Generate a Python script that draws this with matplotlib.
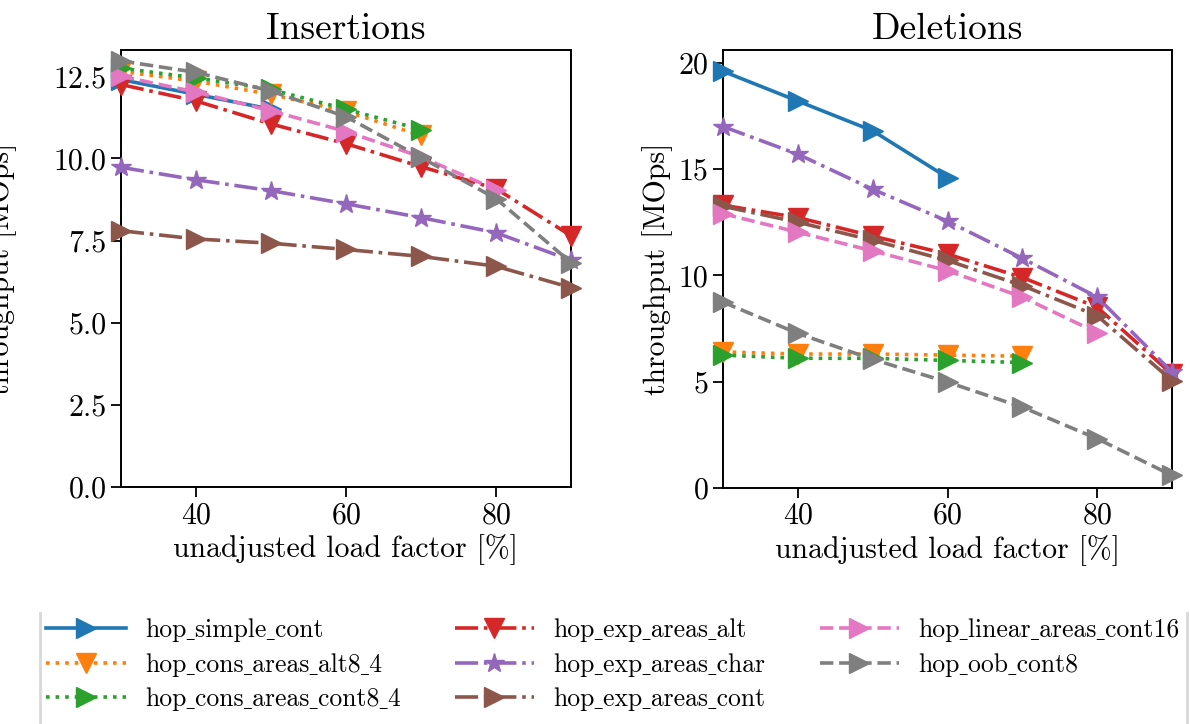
import matplotlib
matplotlib.use("Agg")
import matplotlib.pyplot as plt
from matplotlib.lines import Line2D
from matplotlib.font_manager import FontProperties

plt.rcParams['font.family'] = ['cmr10', 'DejaVu Serif']
plt.rcParams['mathtext.fontset'] = 'cm'
plt.rcParams['axes.formatter.use_mathtext'] = True
plt.rcParams['axes.unicode_minus'] = False

load_factor = [30, 40, 50, 60, 70, 80, 90]

names = ["hop_simple_cont", "hop_cons_areas_alt8_4", "hop_cons_areas_cont8_4",
         "hop_exp_areas_alt", "hop_exp_areas_char", "hop_exp_areas_cont",
         "hop_linear_areas_cont16", "hop_oob_cont8"]

# Insertions throughput [MOps]
ins_simple_cont = [12.4, 11.95, 11.5]
ins_cons_alt8_4 = [12.65, 12.35, 11.95, 11.43, 10.7]
ins_cons_cont8_4 = [12.75, 12.45, 12.1, 11.5, 10.88]
ins_exp_alt = [12.25, 11.75, 11.05, 10.45, 9.75, 9.08, 7.65]
ins_exp_char = [9.73, 9.35, 9.02, 8.62, 8.2, 7.74, 6.9]
ins_exp_cont = [7.8, 7.55, 7.42, 7.23, 7.02, 6.72, 6.07]
ins_linear_cont16 = [12.5, 12.02, 11.45, 10.82, 10.05, 9.05]
ins_oob_cont8 = [12.97, 12.62, 12.05, 11.27, 10.03, 8.78, 6.83]

# Deletions throughput [MOps]
del_simple_cont = [19.6, 18.2, 16.8, 14.6]
del_cons_alt8_4 = [6.4, 6.3, 6.3, 6.25, 6.2]
del_cons_cont8_4 = [6.25, 6.1, 6.1, 6.0, 5.9]
del_exp_alt = [13.3, 12.72, 11.85, 11.0, 9.9, 8.5, 5.35]
del_exp_char = [17.0, 15.7, 14.05, 12.55, 10.8, 8.98, 5.45]
del_exp_cont = [13.25, 12.5, 11.65, 10.7, 9.52, 8.1, 5.05]
del_linear_cont16 = [12.9, 12.03, 11.15, 10.22, 8.98, 7.3]
del_oob_cont8 = [8.74, 7.27, 6.05, 4.98, 3.8, 2.32, 0.59]

ins_series = [ins_simple_cont, ins_cons_alt8_4, ins_cons_cont8_4, ins_exp_alt,
              ins_exp_char, ins_exp_cont, ins_linear_cont16, ins_oob_cont8]
del_series = [del_simple_cont, del_cons_alt8_4, del_cons_cont8_4, del_exp_alt,
              del_exp_char, del_exp_cont, del_linear_cont16, del_oob_cont8]

colors = ['#1f77b4', '#ff7f0e', '#2ca02c', '#d62728', '#9467bd', '#8c564b', '#e377c2', '#7f7f7f']
styles = ['-', ':', ':', '-.', '-.', '-.', '--', '--']
markers = ['>', 'v', '>', 'v', '*', '>', '>', '>']

fig = plt.figure(figsize=(11.9, 7.24), dpi=100)
ax1 = fig.add_axes([0.1017, 0.3273, 0.3781, 0.6036])
ax2 = fig.add_axes([0.6076, 0.3260, 0.3773, 0.6049])

FS_T = 27
FS = 21.5

for ax, series, title, ylim, yt in [
        (ax1, ins_series, "Insertions", (0, 13.3), [0, 2.5, 5, 7.5, 10, 12.5]),
        (ax2, del_series, "Deletions", (0, 20.6), [0, 5, 10, 15, 20])]:
    for i, ys in enumerate(series):
        ax.plot(load_factor[:len(ys)], ys, linestyle=styles[i], color=colors[i],
                marker=markers[i], markersize=14 if markers[i] != '*' else 15,
                linewidth=2.6, label=names[i].replace('_', '\u02cd'),
                clip_on=False, zorder=3)
    ax.set_xlim(30, 90)
    ax.set_ylim(*ylim)
    ax.set_xticks([40, 60, 80])
    ax.set_yticks(yt)
    if ax is ax1:
        ax.set_yticklabels(['0.0', '2.5', '5.0', '7.5', '10.0', '12.5'])
    else:
        ax.set_yticklabels(['0', '5', '10', '15', '20'])
    ax.set_title(title, fontsize=FS_T, pad=8)
    ax.set_xlabel("unadjusted load factor [%]", fontsize=FS)
    ax.set_ylabel("throughput [MOps]", fontsize=FS,
                  labelpad=26 if ax is ax1 else 4)
    ax.tick_params(labelsize=FS, length=7, width=1.3)
    for sp in ax.spines.values():
        sp.set_linewidth(1.4)

handles, labels = ax1.get_legend_handles_labels()
leg_font = FontProperties(family=['cmr10', 'Liberation Serif', 'DejaVu Serif'], size=18.5)
fig.legend(handles, labels, loc='upper center', bbox_to_anchor=(0.515, 0.178),
           ncol=3, frameon=False, prop=leg_font, handlelength=3.1,
           columnspacing=2.1, labelspacing=0.42, handletextpad=0.75)

for xf in [40 / 1190, 1187 / 1190]:
    fig.add_artist(Line2D([xf, xf], [0, 1 - 613 / 724], transform=fig.transFigure,
                          color='#d8d8d8', linewidth=2))

fig.savefig("out.png", dpi=100)
